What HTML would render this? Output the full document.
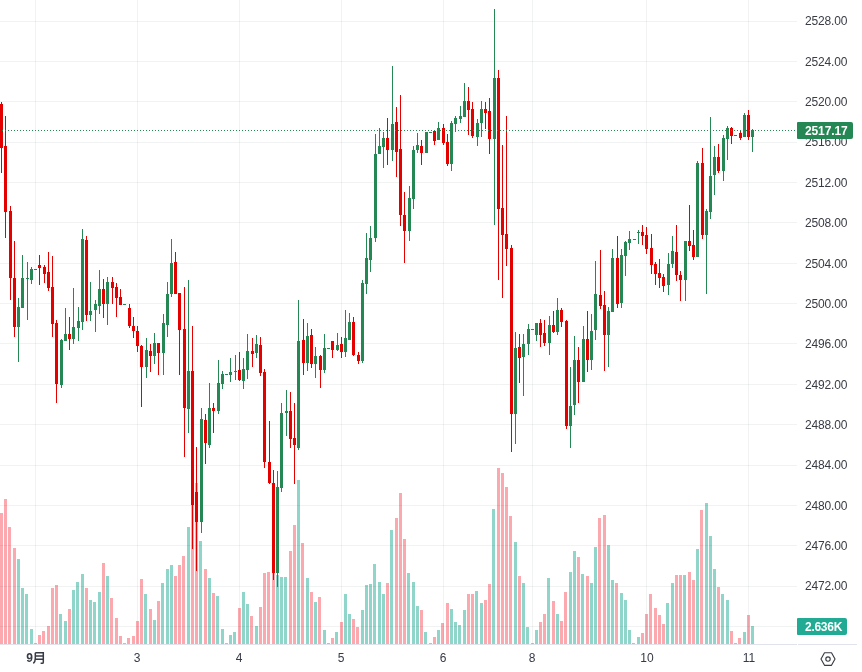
<!DOCTYPE html><html><head><meta charset="utf-8"><title>chart</title><style>
html,body{margin:0;padding:0;background:#fff}
body{width:862px;height:672px;overflow:hidden;position:relative;font-family:"Liberation Sans",sans-serif}
svg{position:absolute;left:0;top:0}
.pl{position:absolute;will-change:transform;left:805px;width:50px;height:14px;line-height:14px;font-size:12px;color:#3a3c45;letter-spacing:-0.15px;white-space:nowrap}
.tl{position:absolute;will-change:transform;top:651px;width:40px;height:14px;line-height:14px;font-size:12px;color:#363a45;text-align:center;white-space:nowrap}
.badge{position:absolute;will-change:transform;left:797px;color:#fff;font-weight:bold;font-size:12px;border-radius:1px 2px 2px 1px;box-sizing:border-box;padding-left:8px;white-space:nowrap;letter-spacing:-0.12px}

</style></head><body>
<svg width="862" height="672" viewBox="0 0 862 672" shape-rendering="crispEdges">
<rect x="0" y="513" width="3" height="131" fill="#fba8af"/>
<rect x="4" y="499" width="3" height="145" fill="#fba8af"/>
<rect x="8" y="527" width="3" height="117" fill="#fba8af"/>
<rect x="13" y="548" width="3" height="96" fill="#fba8af"/>
<rect x="17" y="559" width="3" height="85" fill="#90d5c9"/>
<rect x="21" y="588" width="3" height="56" fill="#90d5c9"/>
<rect x="25" y="594" width="3" height="50" fill="#90d5c9"/>
<rect x="30" y="629" width="3" height="15" fill="#90d5c9"/>
<rect x="34" y="643" width="3" height="1" fill="#90d5c9"/>
<rect x="38" y="635" width="3" height="9" fill="#fba8af"/>
<rect x="42" y="631" width="3" height="13" fill="#fba8af"/>
<rect x="47" y="626" width="3" height="18" fill="#fba8af"/>
<rect x="51" y="588" width="3" height="56" fill="#fba8af"/>
<rect x="55" y="585" width="3" height="59" fill="#fba8af"/>
<rect x="59" y="614" width="3" height="30" fill="#90d5c9"/>
<rect x="64" y="621" width="3" height="23" fill="#90d5c9"/>
<rect x="68" y="609" width="3" height="35" fill="#fba8af"/>
<rect x="72" y="590" width="3" height="54" fill="#90d5c9"/>
<rect x="76" y="582" width="3" height="62" fill="#90d5c9"/>
<rect x="81" y="574" width="3" height="70" fill="#90d5c9"/>
<rect x="85" y="588" width="3" height="56" fill="#fba8af"/>
<rect x="89" y="600" width="3" height="44" fill="#90d5c9"/>
<rect x="93" y="602" width="3" height="42" fill="#90d5c9"/>
<rect x="98" y="592" width="3" height="52" fill="#90d5c9"/>
<rect x="102" y="563" width="3" height="81" fill="#fba8af"/>
<rect x="106" y="576" width="3" height="68" fill="#90d5c9"/>
<rect x="110" y="598" width="3" height="46" fill="#fba8af"/>
<rect x="115" y="618" width="3" height="26" fill="#fba8af"/>
<rect x="119" y="636" width="3" height="8" fill="#fba8af"/>
<rect x="123" y="643" width="3" height="1" fill="#90d5c9"/>
<rect x="127" y="638" width="3" height="6" fill="#fba8af"/>
<rect x="132" y="636" width="3" height="8" fill="#fba8af"/>
<rect x="136" y="621" width="3" height="23" fill="#fba8af"/>
<rect x="140" y="579" width="3" height="65" fill="#fba8af"/>
<rect x="144" y="594" width="3" height="50" fill="#90d5c9"/>
<rect x="149" y="609" width="3" height="35" fill="#fba8af"/>
<rect x="153" y="620" width="3" height="24" fill="#90d5c9"/>
<rect x="157" y="601" width="3" height="43" fill="#fba8af"/>
<rect x="161" y="583" width="3" height="61" fill="#90d5c9"/>
<rect x="166" y="569" width="3" height="75" fill="#90d5c9"/>
<rect x="170" y="565" width="3" height="79" fill="#90d5c9"/>
<rect x="174" y="576" width="3" height="68" fill="#fba8af"/>
<rect x="178" y="565" width="3" height="79" fill="#fba8af"/>
<rect x="182" y="556" width="3" height="88" fill="#fba8af"/>
<rect x="187" y="527" width="3" height="117" fill="#90d5c9"/>
<rect x="191" y="500" width="3" height="144" fill="#fba8af"/>
<rect x="195" y="483" width="3" height="161" fill="#fba8af"/>
<rect x="199" y="541" width="3" height="103" fill="#90d5c9"/>
<rect x="204" y="569" width="3" height="75" fill="#fba8af"/>
<rect x="208" y="578" width="3" height="66" fill="#90d5c9"/>
<rect x="212" y="593" width="3" height="51" fill="#fba8af"/>
<rect x="216" y="596" width="3" height="48" fill="#90d5c9"/>
<rect x="221" y="629" width="3" height="15" fill="#90d5c9"/>
<rect x="225" y="643" width="3" height="1" fill="#90d5c9"/>
<rect x="229" y="635" width="3" height="9" fill="#90d5c9"/>
<rect x="233" y="632" width="3" height="12" fill="#90d5c9"/>
<rect x="238" y="608" width="3" height="36" fill="#fba8af"/>
<rect x="242" y="592" width="3" height="52" fill="#90d5c9"/>
<rect x="246" y="604" width="3" height="40" fill="#90d5c9"/>
<rect x="250" y="616" width="3" height="28" fill="#fba8af"/>
<rect x="255" y="626" width="3" height="18" fill="#90d5c9"/>
<rect x="259" y="607" width="3" height="37" fill="#fba8af"/>
<rect x="263" y="573" width="3" height="71" fill="#fba8af"/>
<rect x="267" y="572" width="3" height="72" fill="#fba8af"/>
<rect x="272" y="573" width="3" height="71" fill="#fba8af"/>
<rect x="276" y="575" width="3" height="69" fill="#90d5c9"/>
<rect x="280" y="577" width="3" height="67" fill="#90d5c9"/>
<rect x="284" y="577" width="3" height="67" fill="#90d5c9"/>
<rect x="289" y="551" width="3" height="93" fill="#fba8af"/>
<rect x="293" y="525" width="3" height="119" fill="#fba8af"/>
<rect x="297" y="480" width="3" height="164" fill="#90d5c9"/>
<rect x="301" y="543" width="3" height="101" fill="#fba8af"/>
<rect x="306" y="578" width="3" height="66" fill="#90d5c9"/>
<rect x="310" y="592" width="3" height="52" fill="#fba8af"/>
<rect x="314" y="602" width="3" height="42" fill="#90d5c9"/>
<rect x="318" y="597" width="3" height="47" fill="#fba8af"/>
<rect x="323" y="630" width="3" height="14" fill="#90d5c9"/>
<rect x="327" y="643" width="3" height="1" fill="#90d5c9"/>
<rect x="331" y="638" width="3" height="6" fill="#fba8af"/>
<rect x="335" y="632" width="3" height="12" fill="#90d5c9"/>
<rect x="340" y="622" width="3" height="22" fill="#fba8af"/>
<rect x="344" y="594" width="3" height="50" fill="#90d5c9"/>
<rect x="348" y="614" width="3" height="30" fill="#90d5c9"/>
<rect x="352" y="619" width="3" height="25" fill="#fba8af"/>
<rect x="356" y="627" width="3" height="17" fill="#fba8af"/>
<rect x="361" y="610" width="3" height="34" fill="#90d5c9"/>
<rect x="365" y="585" width="3" height="59" fill="#90d5c9"/>
<rect x="369" y="584" width="3" height="60" fill="#90d5c9"/>
<rect x="373" y="564" width="3" height="80" fill="#90d5c9"/>
<rect x="378" y="582" width="3" height="62" fill="#90d5c9"/>
<rect x="382" y="594" width="3" height="50" fill="#90d5c9"/>
<rect x="386" y="583" width="3" height="61" fill="#fba8af"/>
<rect x="390" y="530" width="3" height="114" fill="#90d5c9"/>
<rect x="395" y="518" width="3" height="126" fill="#fba8af"/>
<rect x="399" y="493" width="3" height="151" fill="#fba8af"/>
<rect x="403" y="539" width="3" height="105" fill="#fba8af"/>
<rect x="407" y="573" width="3" height="71" fill="#90d5c9"/>
<rect x="412" y="582" width="3" height="62" fill="#90d5c9"/>
<rect x="416" y="606" width="3" height="38" fill="#90d5c9"/>
<rect x="420" y="610" width="3" height="34" fill="#fba8af"/>
<rect x="424" y="632" width="3" height="12" fill="#90d5c9"/>
<rect x="429" y="643" width="3" height="1" fill="#90d5c9"/>
<rect x="433" y="637" width="3" height="7" fill="#fba8af"/>
<rect x="437" y="630" width="3" height="14" fill="#90d5c9"/>
<rect x="441" y="623" width="3" height="21" fill="#fba8af"/>
<rect x="446" y="603" width="3" height="41" fill="#fba8af"/>
<rect x="450" y="609" width="3" height="35" fill="#90d5c9"/>
<rect x="454" y="622" width="3" height="22" fill="#90d5c9"/>
<rect x="458" y="625" width="3" height="19" fill="#90d5c9"/>
<rect x="463" y="610" width="3" height="34" fill="#90d5c9"/>
<rect x="467" y="594" width="3" height="50" fill="#fba8af"/>
<rect x="471" y="594" width="3" height="50" fill="#fba8af"/>
<rect x="475" y="591" width="3" height="53" fill="#90d5c9"/>
<rect x="480" y="603" width="3" height="41" fill="#90d5c9"/>
<rect x="484" y="600" width="3" height="44" fill="#fba8af"/>
<rect x="488" y="584" width="3" height="60" fill="#fba8af"/>
<rect x="492" y="509" width="3" height="135" fill="#90d5c9"/>
<rect x="497" y="468" width="3" height="176" fill="#fba8af"/>
<rect x="501" y="473" width="3" height="171" fill="#fba8af"/>
<rect x="505" y="487" width="3" height="157" fill="#fba8af"/>
<rect x="509" y="516" width="3" height="128" fill="#fba8af"/>
<rect x="514" y="542" width="3" height="102" fill="#90d5c9"/>
<rect x="518" y="576" width="3" height="68" fill="#fba8af"/>
<rect x="522" y="583" width="3" height="61" fill="#90d5c9"/>
<rect x="526" y="627" width="3" height="17" fill="#90d5c9"/>
<rect x="531" y="643" width="3" height="1" fill="#90d5c9"/>
<rect x="535" y="630" width="3" height="14" fill="#90d5c9"/>
<rect x="539" y="622" width="3" height="22" fill="#fba8af"/>
<rect x="543" y="614" width="3" height="30" fill="#fba8af"/>
<rect x="547" y="578" width="3" height="66" fill="#90d5c9"/>
<rect x="552" y="601" width="3" height="43" fill="#fba8af"/>
<rect x="556" y="614" width="3" height="30" fill="#90d5c9"/>
<rect x="560" y="621" width="3" height="23" fill="#fba8af"/>
<rect x="564" y="592" width="3" height="52" fill="#fba8af"/>
<rect x="569" y="572" width="3" height="72" fill="#90d5c9"/>
<rect x="573" y="551" width="3" height="93" fill="#90d5c9"/>
<rect x="577" y="557" width="3" height="87" fill="#fba8af"/>
<rect x="581" y="574" width="3" height="70" fill="#90d5c9"/>
<rect x="586" y="576" width="3" height="68" fill="#fba8af"/>
<rect x="590" y="583" width="3" height="61" fill="#90d5c9"/>
<rect x="594" y="547" width="3" height="97" fill="#90d5c9"/>
<rect x="598" y="518" width="3" height="126" fill="#fba8af"/>
<rect x="603" y="515" width="3" height="129" fill="#fba8af"/>
<rect x="607" y="545" width="3" height="99" fill="#90d5c9"/>
<rect x="611" y="580" width="3" height="64" fill="#90d5c9"/>
<rect x="615" y="583" width="3" height="61" fill="#fba8af"/>
<rect x="620" y="593" width="3" height="51" fill="#90d5c9"/>
<rect x="624" y="600" width="3" height="44" fill="#90d5c9"/>
<rect x="628" y="630" width="3" height="14" fill="#90d5c9"/>
<rect x="632" y="643" width="3" height="1" fill="#90d5c9"/>
<rect x="637" y="637" width="3" height="7" fill="#90d5c9"/>
<rect x="641" y="633" width="3" height="11" fill="#fba8af"/>
<rect x="645" y="614" width="3" height="30" fill="#fba8af"/>
<rect x="649" y="594" width="3" height="50" fill="#fba8af"/>
<rect x="654" y="608" width="3" height="36" fill="#fba8af"/>
<rect x="658" y="615" width="3" height="29" fill="#fba8af"/>
<rect x="662" y="624" width="3" height="20" fill="#fba8af"/>
<rect x="666" y="603" width="3" height="41" fill="#90d5c9"/>
<rect x="671" y="583" width="3" height="61" fill="#90d5c9"/>
<rect x="675" y="575" width="3" height="69" fill="#fba8af"/>
<rect x="679" y="575" width="3" height="69" fill="#fba8af"/>
<rect x="683" y="575" width="3" height="69" fill="#90d5c9"/>
<rect x="688" y="572" width="3" height="72" fill="#fba8af"/>
<rect x="692" y="580" width="3" height="64" fill="#fba8af"/>
<rect x="696" y="549" width="3" height="95" fill="#90d5c9"/>
<rect x="700" y="510" width="3" height="134" fill="#fba8af"/>
<rect x="705" y="503" width="3" height="141" fill="#90d5c9"/>
<rect x="709" y="536" width="3" height="108" fill="#90d5c9"/>
<rect x="713" y="569" width="3" height="75" fill="#90d5c9"/>
<rect x="717" y="587" width="3" height="57" fill="#fba8af"/>
<rect x="721" y="594" width="3" height="50" fill="#90d5c9"/>
<rect x="726" y="600" width="3" height="44" fill="#90d5c9"/>
<rect x="730" y="631" width="3" height="13" fill="#fba8af"/>
<rect x="734" y="643" width="3" height="1" fill="#90d5c9"/>
<rect x="738" y="638" width="3" height="6" fill="#fba8af"/>
<rect x="743" y="632" width="3" height="12" fill="#90d5c9"/>
<rect x="747" y="615" width="3" height="29" fill="#fba8af"/>
<rect x="751" y="626" width="3" height="18" fill="#90d5c9"/>
<rect x="0" y="21" width="797" height="1" fill="rgba(42,60,57,0.065)"/>
<rect x="0" y="61" width="797" height="1" fill="rgba(42,60,57,0.065)"/>
<rect x="0" y="101" width="797" height="1" fill="rgba(42,60,57,0.065)"/>
<rect x="0" y="142" width="797" height="1" fill="rgba(42,60,57,0.065)"/>
<rect x="0" y="182" width="797" height="1" fill="rgba(42,60,57,0.065)"/>
<rect x="0" y="222" width="797" height="1" fill="rgba(42,60,57,0.065)"/>
<rect x="0" y="263" width="797" height="1" fill="rgba(42,60,57,0.065)"/>
<rect x="0" y="303" width="797" height="1" fill="rgba(42,60,57,0.065)"/>
<rect x="0" y="343" width="797" height="1" fill="rgba(42,60,57,0.065)"/>
<rect x="0" y="384" width="797" height="1" fill="rgba(42,60,57,0.065)"/>
<rect x="0" y="424" width="797" height="1" fill="rgba(42,60,57,0.065)"/>
<rect x="0" y="465" width="797" height="1" fill="rgba(42,60,57,0.065)"/>
<rect x="0" y="505" width="797" height="1" fill="rgba(42,60,57,0.065)"/>
<rect x="0" y="545" width="797" height="1" fill="rgba(42,60,57,0.065)"/>
<rect x="0" y="586" width="797" height="1" fill="rgba(42,60,57,0.065)"/>
<rect x="0" y="626" width="797" height="1" fill="rgba(42,60,57,0.065)"/>
<rect x="35" y="0" width="1" height="644" fill="rgba(42,60,57,0.065)"/>
<rect x="137" y="0" width="1" height="644" fill="rgba(42,60,57,0.065)"/>
<rect x="239" y="0" width="1" height="644" fill="rgba(42,60,57,0.065)"/>
<rect x="341" y="0" width="1" height="644" fill="rgba(42,60,57,0.065)"/>
<rect x="443" y="0" width="1" height="644" fill="rgba(42,60,57,0.065)"/>
<rect x="532" y="0" width="1" height="644" fill="rgba(42,60,57,0.065)"/>
<rect x="646" y="0" width="1" height="644" fill="rgba(42,60,57,0.065)"/>
<rect x="748" y="0" width="1" height="644" fill="rgba(42,60,57,0.065)"/>
<rect x="1" y="102" width="1" height="71" fill="#e50000"/>
<rect x="0" y="104" width="3" height="44" fill="#e50000"/>
<rect x="5" y="116" width="1" height="122" fill="#e50000"/>
<rect x="4" y="146" width="3" height="66" fill="#e50000"/>
<rect x="10" y="206" width="1" height="94" fill="#e50000"/>
<rect x="9" y="211" width="3" height="67" fill="#e50000"/>
<rect x="14" y="241" width="1" height="96" fill="#e50000"/>
<rect x="13" y="278" width="3" height="49" fill="#e50000"/>
<rect x="18" y="298" width="1" height="64" fill="#258753"/>
<rect x="17" y="307" width="3" height="20" fill="#258753"/>
<rect x="22" y="255" width="1" height="53" fill="#258753"/>
<rect x="21" y="278" width="3" height="30" fill="#258753"/>
<rect x="27" y="262" width="1" height="58" fill="#258753"/>
<rect x="26" y="278" width="3" height="1" fill="#258753"/>
<rect x="31" y="267" width="1" height="17" fill="#258753"/>
<rect x="30" y="269" width="3" height="11" fill="#258753"/>
<rect x="35" y="269" width="1" height="1" fill="#258753"/>
<rect x="34" y="269" width="3" height="1" fill="#258753"/>
<rect x="39" y="255" width="1" height="30" fill="#e50000"/>
<rect x="38" y="265" width="3" height="3" fill="#e50000"/>
<rect x="44" y="265" width="1" height="18" fill="#e50000"/>
<rect x="43" y="267" width="3" height="7" fill="#e50000"/>
<rect x="48" y="252" width="1" height="39" fill="#e50000"/>
<rect x="47" y="272" width="3" height="16" fill="#e50000"/>
<rect x="52" y="256" width="1" height="81" fill="#e50000"/>
<rect x="51" y="287" width="3" height="37" fill="#e50000"/>
<rect x="56" y="320" width="1" height="83" fill="#e50000"/>
<rect x="55" y="323" width="3" height="61" fill="#e50000"/>
<rect x="61" y="339" width="1" height="49" fill="#258753"/>
<rect x="60" y="340" width="3" height="45" fill="#258753"/>
<rect x="65" y="308" width="1" height="33" fill="#258753"/>
<rect x="64" y="334" width="3" height="7" fill="#258753"/>
<rect x="69" y="317" width="1" height="33" fill="#e50000"/>
<rect x="68" y="334" width="3" height="5" fill="#e50000"/>
<rect x="73" y="288" width="1" height="56" fill="#258753"/>
<rect x="72" y="327" width="3" height="12" fill="#258753"/>
<rect x="78" y="307" width="1" height="34" fill="#258753"/>
<rect x="77" y="321" width="3" height="7" fill="#258753"/>
<rect x="82" y="229" width="1" height="101" fill="#258753"/>
<rect x="81" y="239" width="3" height="83" fill="#258753"/>
<rect x="86" y="236" width="1" height="85" fill="#e50000"/>
<rect x="85" y="240" width="3" height="75" fill="#e50000"/>
<rect x="90" y="282" width="1" height="39" fill="#258753"/>
<rect x="89" y="311" width="3" height="4" fill="#258753"/>
<rect x="95" y="300" width="1" height="32" fill="#258753"/>
<rect x="94" y="304" width="3" height="6" fill="#258753"/>
<rect x="99" y="270" width="1" height="44" fill="#258753"/>
<rect x="98" y="289" width="3" height="17" fill="#258753"/>
<rect x="103" y="279" width="1" height="39" fill="#e50000"/>
<rect x="102" y="289" width="3" height="15" fill="#e50000"/>
<rect x="107" y="277" width="1" height="48" fill="#258753"/>
<rect x="106" y="282" width="3" height="22" fill="#258753"/>
<rect x="112" y="277" width="1" height="27" fill="#e50000"/>
<rect x="111" y="282" width="3" height="6" fill="#e50000"/>
<rect x="116" y="283" width="1" height="34" fill="#e50000"/>
<rect x="115" y="287" width="3" height="11" fill="#e50000"/>
<rect x="120" y="289" width="1" height="16" fill="#e50000"/>
<rect x="119" y="297" width="3" height="8" fill="#e50000"/>
<rect x="124" y="304" width="1" height="1" fill="#258753"/>
<rect x="123" y="304" width="3" height="1" fill="#258753"/>
<rect x="129" y="304" width="1" height="24" fill="#e50000"/>
<rect x="128" y="308" width="3" height="18" fill="#e50000"/>
<rect x="133" y="317" width="1" height="21" fill="#e50000"/>
<rect x="132" y="326" width="3" height="5" fill="#e50000"/>
<rect x="137" y="326" width="1" height="26" fill="#e50000"/>
<rect x="136" y="331" width="3" height="15" fill="#e50000"/>
<rect x="141" y="345" width="1" height="62" fill="#e50000"/>
<rect x="140" y="346" width="3" height="21" fill="#e50000"/>
<rect x="146" y="338" width="1" height="40" fill="#258753"/>
<rect x="145" y="350" width="3" height="17" fill="#258753"/>
<rect x="150" y="344" width="1" height="28" fill="#e50000"/>
<rect x="149" y="351" width="3" height="5" fill="#e50000"/>
<rect x="154" y="333" width="1" height="31" fill="#258753"/>
<rect x="153" y="343" width="3" height="13" fill="#258753"/>
<rect x="158" y="343" width="1" height="32" fill="#e50000"/>
<rect x="157" y="343" width="3" height="10" fill="#e50000"/>
<rect x="163" y="314" width="1" height="61" fill="#258753"/>
<rect x="162" y="323" width="3" height="30" fill="#258753"/>
<rect x="167" y="282" width="1" height="55" fill="#258753"/>
<rect x="166" y="294" width="3" height="31" fill="#258753"/>
<rect x="171" y="239" width="1" height="58" fill="#258753"/>
<rect x="170" y="263" width="3" height="31" fill="#258753"/>
<rect x="175" y="252" width="1" height="42" fill="#e50000"/>
<rect x="174" y="262" width="3" height="32" fill="#e50000"/>
<rect x="179" y="293" width="1" height="82" fill="#e50000"/>
<rect x="178" y="293" width="3" height="37" fill="#e50000"/>
<rect x="184" y="287" width="1" height="170" fill="#e50000"/>
<rect x="183" y="329" width="3" height="79" fill="#e50000"/>
<rect x="188" y="280" width="1" height="153" fill="#258753"/>
<rect x="187" y="371" width="3" height="38" fill="#258753"/>
<rect x="192" y="326" width="1" height="223" fill="#e50000"/>
<rect x="191" y="371" width="3" height="134" fill="#e50000"/>
<rect x="196" y="447" width="1" height="124" fill="#e50000"/>
<rect x="195" y="492" width="3" height="30" fill="#e50000"/>
<rect x="201" y="408" width="1" height="125" fill="#258753"/>
<rect x="200" y="419" width="3" height="103" fill="#258753"/>
<rect x="205" y="414" width="1" height="50" fill="#e50000"/>
<rect x="204" y="420" width="3" height="23" fill="#e50000"/>
<rect x="209" y="383" width="1" height="65" fill="#258753"/>
<rect x="208" y="408" width="3" height="37" fill="#258753"/>
<rect x="213" y="403" width="1" height="30" fill="#e50000"/>
<rect x="212" y="408" width="3" height="3" fill="#e50000"/>
<rect x="218" y="360" width="1" height="54" fill="#258753"/>
<rect x="217" y="383" width="3" height="28" fill="#258753"/>
<rect x="222" y="371" width="1" height="18" fill="#258753"/>
<rect x="221" y="374" width="3" height="10" fill="#258753"/>
<rect x="226" y="374" width="1" height="1" fill="#258753"/>
<rect x="225" y="374" width="3" height="1" fill="#258753"/>
<rect x="230" y="358" width="1" height="24" fill="#258753"/>
<rect x="229" y="372" width="3" height="3" fill="#258753"/>
<rect x="235" y="355" width="1" height="25" fill="#258753"/>
<rect x="234" y="371" width="3" height="1" fill="#258753"/>
<rect x="239" y="352" width="1" height="29" fill="#e50000"/>
<rect x="238" y="370" width="3" height="10" fill="#e50000"/>
<rect x="243" y="358" width="1" height="31" fill="#258753"/>
<rect x="242" y="369" width="3" height="12" fill="#258753"/>
<rect x="247" y="334" width="1" height="45" fill="#258753"/>
<rect x="246" y="351" width="3" height="19" fill="#258753"/>
<rect x="252" y="338" width="1" height="29" fill="#e50000"/>
<rect x="251" y="351" width="3" height="3" fill="#e50000"/>
<rect x="256" y="335" width="1" height="23" fill="#258753"/>
<rect x="255" y="344" width="3" height="9" fill="#258753"/>
<rect x="260" y="337" width="1" height="39" fill="#e50000"/>
<rect x="259" y="345" width="3" height="28" fill="#e50000"/>
<rect x="264" y="369" width="1" height="99" fill="#e50000"/>
<rect x="263" y="372" width="3" height="90" fill="#e50000"/>
<rect x="269" y="421" width="1" height="63" fill="#e50000"/>
<rect x="268" y="462" width="3" height="21" fill="#e50000"/>
<rect x="273" y="470" width="1" height="110" fill="#e50000"/>
<rect x="272" y="483" width="3" height="90" fill="#e50000"/>
<rect x="277" y="471" width="1" height="116" fill="#258753"/>
<rect x="276" y="487" width="3" height="86" fill="#258753"/>
<rect x="281" y="403" width="1" height="89" fill="#258753"/>
<rect x="280" y="413" width="3" height="75" fill="#258753"/>
<rect x="286" y="390" width="1" height="46" fill="#258753"/>
<rect x="285" y="411" width="3" height="2" fill="#258753"/>
<rect x="290" y="392" width="1" height="56" fill="#e50000"/>
<rect x="289" y="411" width="3" height="28" fill="#e50000"/>
<rect x="294" y="403" width="1" height="81" fill="#e50000"/>
<rect x="293" y="438" width="3" height="7" fill="#e50000"/>
<rect x="298" y="300" width="1" height="150" fill="#258753"/>
<rect x="297" y="341" width="3" height="107" fill="#258753"/>
<rect x="303" y="319" width="1" height="56" fill="#e50000"/>
<rect x="302" y="340" width="3" height="23" fill="#e50000"/>
<rect x="307" y="323" width="1" height="48" fill="#258753"/>
<rect x="306" y="336" width="3" height="27" fill="#258753"/>
<rect x="311" y="329" width="1" height="39" fill="#e50000"/>
<rect x="310" y="335" width="3" height="29" fill="#e50000"/>
<rect x="315" y="347" width="1" height="31" fill="#258753"/>
<rect x="314" y="356" width="3" height="8" fill="#258753"/>
<rect x="320" y="355" width="1" height="33" fill="#e50000"/>
<rect x="319" y="356" width="3" height="14" fill="#e50000"/>
<rect x="324" y="334" width="1" height="39" fill="#258753"/>
<rect x="323" y="348" width="3" height="22" fill="#258753"/>
<rect x="328" y="348" width="1" height="1" fill="#258753"/>
<rect x="327" y="348" width="3" height="1" fill="#258753"/>
<rect x="332" y="341" width="1" height="17" fill="#e50000"/>
<rect x="331" y="341" width="3" height="9" fill="#e50000"/>
<rect x="337" y="333" width="1" height="18" fill="#258753"/>
<rect x="336" y="345" width="3" height="5" fill="#258753"/>
<rect x="341" y="337" width="1" height="21" fill="#e50000"/>
<rect x="340" y="344" width="3" height="8" fill="#e50000"/>
<rect x="345" y="310" width="1" height="47" fill="#258753"/>
<rect x="344" y="338" width="3" height="14" fill="#258753"/>
<rect x="349" y="313" width="1" height="27" fill="#258753"/>
<rect x="348" y="322" width="3" height="18" fill="#258753"/>
<rect x="353" y="317" width="1" height="39" fill="#e50000"/>
<rect x="352" y="322" width="3" height="33" fill="#e50000"/>
<rect x="358" y="352" width="1" height="12" fill="#e50000"/>
<rect x="357" y="355" width="3" height="6" fill="#e50000"/>
<rect x="362" y="280" width="1" height="83" fill="#258753"/>
<rect x="361" y="283" width="3" height="78" fill="#258753"/>
<rect x="366" y="233" width="1" height="61" fill="#258753"/>
<rect x="365" y="258" width="3" height="26" fill="#258753"/>
<rect x="370" y="226" width="1" height="46" fill="#258753"/>
<rect x="369" y="238" width="3" height="22" fill="#258753"/>
<rect x="375" y="134" width="1" height="108" fill="#258753"/>
<rect x="374" y="154" width="3" height="84" fill="#258753"/>
<rect x="379" y="128" width="1" height="26" fill="#258753"/>
<rect x="378" y="146" width="3" height="8" fill="#258753"/>
<rect x="383" y="132" width="1" height="36" fill="#258753"/>
<rect x="382" y="138" width="3" height="9" fill="#258753"/>
<rect x="387" y="118" width="1" height="47" fill="#e50000"/>
<rect x="386" y="138" width="3" height="12" fill="#e50000"/>
<rect x="392" y="66" width="1" height="95" fill="#258753"/>
<rect x="391" y="124" width="3" height="26" fill="#258753"/>
<rect x="396" y="107" width="1" height="70" fill="#e50000"/>
<rect x="395" y="122" width="3" height="30" fill="#e50000"/>
<rect x="400" y="95" width="1" height="131" fill="#e50000"/>
<rect x="399" y="149" width="3" height="66" fill="#e50000"/>
<rect x="404" y="192" width="1" height="71" fill="#e50000"/>
<rect x="403" y="215" width="3" height="16" fill="#e50000"/>
<rect x="409" y="186" width="1" height="55" fill="#258753"/>
<rect x="408" y="198" width="3" height="33" fill="#258753"/>
<rect x="413" y="146" width="1" height="63" fill="#258753"/>
<rect x="412" y="150" width="3" height="49" fill="#258753"/>
<rect x="417" y="133" width="1" height="20" fill="#258753"/>
<rect x="416" y="145" width="3" height="5" fill="#258753"/>
<rect x="421" y="140" width="1" height="25" fill="#e50000"/>
<rect x="420" y="146" width="3" height="7" fill="#e50000"/>
<rect x="426" y="132" width="1" height="21" fill="#258753"/>
<rect x="425" y="132" width="3" height="21" fill="#258753"/>
<rect x="430" y="132" width="1" height="1" fill="#258753"/>
<rect x="429" y="132" width="3" height="1" fill="#258753"/>
<rect x="434" y="130" width="1" height="15" fill="#e50000"/>
<rect x="433" y="131" width="3" height="10" fill="#e50000"/>
<rect x="438" y="122" width="1" height="18" fill="#258753"/>
<rect x="437" y="128" width="3" height="12" fill="#258753"/>
<rect x="443" y="124" width="1" height="21" fill="#e50000"/>
<rect x="442" y="128" width="3" height="15" fill="#e50000"/>
<rect x="447" y="134" width="1" height="32" fill="#e50000"/>
<rect x="446" y="142" width="3" height="22" fill="#e50000"/>
<rect x="451" y="121" width="1" height="50" fill="#258753"/>
<rect x="450" y="123" width="3" height="41" fill="#258753"/>
<rect x="455" y="116" width="1" height="16" fill="#258753"/>
<rect x="454" y="118" width="3" height="6" fill="#258753"/>
<rect x="460" y="106" width="1" height="17" fill="#258753"/>
<rect x="459" y="116" width="3" height="3" fill="#258753"/>
<rect x="464" y="83" width="1" height="34" fill="#258753"/>
<rect x="463" y="101" width="3" height="16" fill="#258753"/>
<rect x="468" y="87" width="1" height="48" fill="#e50000"/>
<rect x="467" y="101" width="3" height="9" fill="#e50000"/>
<rect x="472" y="102" width="1" height="36" fill="#e50000"/>
<rect x="471" y="109" width="3" height="27" fill="#e50000"/>
<rect x="477" y="119" width="1" height="27" fill="#258753"/>
<rect x="476" y="123" width="3" height="14" fill="#258753"/>
<rect x="481" y="101" width="1" height="36" fill="#258753"/>
<rect x="480" y="109" width="3" height="14" fill="#258753"/>
<rect x="485" y="102" width="1" height="27" fill="#e50000"/>
<rect x="484" y="109" width="3" height="4" fill="#e50000"/>
<rect x="489" y="98" width="1" height="56" fill="#e50000"/>
<rect x="488" y="111" width="3" height="28" fill="#e50000"/>
<rect x="494" y="9" width="1" height="216" fill="#258753"/>
<rect x="493" y="78" width="3" height="61" fill="#258753"/>
<rect x="498" y="70" width="1" height="210" fill="#e50000"/>
<rect x="497" y="78" width="3" height="131" fill="#e50000"/>
<rect x="502" y="145" width="1" height="153" fill="#e50000"/>
<rect x="501" y="208" width="3" height="27" fill="#e50000"/>
<rect x="506" y="116" width="1" height="150" fill="#e50000"/>
<rect x="505" y="234" width="3" height="15" fill="#e50000"/>
<rect x="511" y="245" width="1" height="207" fill="#e50000"/>
<rect x="510" y="248" width="3" height="166" fill="#e50000"/>
<rect x="515" y="332" width="1" height="112" fill="#258753"/>
<rect x="514" y="348" width="3" height="66" fill="#258753"/>
<rect x="519" y="334" width="1" height="49" fill="#e50000"/>
<rect x="518" y="347" width="3" height="11" fill="#e50000"/>
<rect x="523" y="334" width="1" height="62" fill="#258753"/>
<rect x="522" y="344" width="3" height="13" fill="#258753"/>
<rect x="528" y="324" width="1" height="31" fill="#258753"/>
<rect x="527" y="329" width="3" height="15" fill="#258753"/>
<rect x="532" y="329" width="1" height="1" fill="#258753"/>
<rect x="531" y="329" width="3" height="1" fill="#258753"/>
<rect x="536" y="323" width="1" height="18" fill="#258753"/>
<rect x="535" y="323" width="3" height="12" fill="#258753"/>
<rect x="540" y="319" width="1" height="28" fill="#e50000"/>
<rect x="539" y="323" width="3" height="12" fill="#e50000"/>
<rect x="544" y="320" width="1" height="26" fill="#e50000"/>
<rect x="543" y="333" width="3" height="10" fill="#e50000"/>
<rect x="549" y="316" width="1" height="39" fill="#258753"/>
<rect x="548" y="325" width="3" height="18" fill="#258753"/>
<rect x="553" y="311" width="1" height="22" fill="#e50000"/>
<rect x="552" y="325" width="3" height="7" fill="#e50000"/>
<rect x="557" y="298" width="1" height="37" fill="#258753"/>
<rect x="556" y="310" width="3" height="22" fill="#258753"/>
<rect x="561" y="308" width="1" height="19" fill="#e50000"/>
<rect x="560" y="310" width="3" height="12" fill="#e50000"/>
<rect x="566" y="320" width="1" height="109" fill="#e50000"/>
<rect x="565" y="321" width="3" height="105" fill="#e50000"/>
<rect x="570" y="367" width="1" height="81" fill="#258753"/>
<rect x="569" y="406" width="3" height="20" fill="#258753"/>
<rect x="574" y="336" width="1" height="79" fill="#258753"/>
<rect x="573" y="360" width="3" height="45" fill="#258753"/>
<rect x="578" y="347" width="1" height="56" fill="#e50000"/>
<rect x="577" y="360" width="3" height="22" fill="#e50000"/>
<rect x="583" y="326" width="1" height="56" fill="#258753"/>
<rect x="582" y="339" width="3" height="43" fill="#258753"/>
<rect x="587" y="311" width="1" height="61" fill="#e50000"/>
<rect x="586" y="339" width="3" height="21" fill="#e50000"/>
<rect x="591" y="314" width="1" height="56" fill="#258753"/>
<rect x="590" y="331" width="3" height="29" fill="#258753"/>
<rect x="595" y="261" width="1" height="79" fill="#258753"/>
<rect x="594" y="294" width="3" height="36" fill="#258753"/>
<rect x="600" y="250" width="1" height="59" fill="#e50000"/>
<rect x="599" y="295" width="3" height="11" fill="#e50000"/>
<rect x="604" y="291" width="1" height="80" fill="#e50000"/>
<rect x="603" y="305" width="3" height="30" fill="#e50000"/>
<rect x="608" y="307" width="1" height="60" fill="#258753"/>
<rect x="607" y="311" width="3" height="24" fill="#258753"/>
<rect x="612" y="249" width="1" height="63" fill="#258753"/>
<rect x="611" y="258" width="3" height="54" fill="#258753"/>
<rect x="617" y="236" width="1" height="72" fill="#e50000"/>
<rect x="616" y="258" width="3" height="46" fill="#e50000"/>
<rect x="621" y="249" width="1" height="59" fill="#258753"/>
<rect x="620" y="255" width="3" height="48" fill="#258753"/>
<rect x="625" y="241" width="1" height="35" fill="#258753"/>
<rect x="624" y="242" width="3" height="14" fill="#258753"/>
<rect x="629" y="231" width="1" height="19" fill="#258753"/>
<rect x="628" y="239" width="3" height="4" fill="#258753"/>
<rect x="634" y="239" width="1" height="1" fill="#258753"/>
<rect x="633" y="239" width="3" height="1" fill="#258753"/>
<rect x="638" y="230" width="1" height="14" fill="#258753"/>
<rect x="637" y="232" width="3" height="1" fill="#258753"/>
<rect x="642" y="225" width="1" height="20" fill="#e50000"/>
<rect x="641" y="232" width="3" height="4" fill="#e50000"/>
<rect x="646" y="227" width="1" height="27" fill="#e50000"/>
<rect x="645" y="235" width="3" height="14" fill="#e50000"/>
<rect x="651" y="234" width="1" height="40" fill="#e50000"/>
<rect x="650" y="248" width="3" height="17" fill="#e50000"/>
<rect x="655" y="262" width="1" height="23" fill="#e50000"/>
<rect x="654" y="264" width="3" height="10" fill="#e50000"/>
<rect x="659" y="259" width="1" height="29" fill="#e50000"/>
<rect x="658" y="273" width="3" height="5" fill="#e50000"/>
<rect x="663" y="274" width="1" height="18" fill="#e50000"/>
<rect x="662" y="277" width="3" height="9" fill="#e50000"/>
<rect x="668" y="253" width="1" height="42" fill="#258753"/>
<rect x="667" y="264" width="3" height="21" fill="#258753"/>
<rect x="672" y="236" width="1" height="32" fill="#258753"/>
<rect x="671" y="251" width="3" height="13" fill="#258753"/>
<rect x="676" y="225" width="1" height="56" fill="#e50000"/>
<rect x="675" y="252" width="3" height="23" fill="#e50000"/>
<rect x="680" y="271" width="1" height="30" fill="#e50000"/>
<rect x="679" y="275" width="3" height="5" fill="#e50000"/>
<rect x="685" y="241" width="1" height="60" fill="#258753"/>
<rect x="684" y="241" width="3" height="39" fill="#258753"/>
<rect x="689" y="205" width="1" height="46" fill="#e50000"/>
<rect x="688" y="241" width="3" height="5" fill="#e50000"/>
<rect x="693" y="230" width="1" height="30" fill="#e50000"/>
<rect x="692" y="245" width="3" height="12" fill="#e50000"/>
<rect x="697" y="161" width="1" height="96" fill="#258753"/>
<rect x="696" y="163" width="3" height="94" fill="#258753"/>
<rect x="702" y="148" width="1" height="91" fill="#e50000"/>
<rect x="701" y="163" width="3" height="72" fill="#e50000"/>
<rect x="706" y="209" width="1" height="85" fill="#258753"/>
<rect x="705" y="211" width="3" height="24" fill="#258753"/>
<rect x="710" y="117" width="1" height="102" fill="#258753"/>
<rect x="709" y="176" width="3" height="36" fill="#258753"/>
<rect x="714" y="146" width="1" height="49" fill="#258753"/>
<rect x="713" y="157" width="3" height="18" fill="#258753"/>
<rect x="718" y="144" width="1" height="29" fill="#e50000"/>
<rect x="717" y="157" width="3" height="14" fill="#e50000"/>
<rect x="723" y="135" width="1" height="46" fill="#258753"/>
<rect x="722" y="138" width="3" height="33" fill="#258753"/>
<rect x="727" y="126" width="1" height="34" fill="#258753"/>
<rect x="726" y="128" width="3" height="11" fill="#258753"/>
<rect x="731" y="127" width="1" height="17" fill="#e50000"/>
<rect x="730" y="128" width="3" height="8" fill="#e50000"/>
<rect x="735" y="135" width="1" height="1" fill="#258753"/>
<rect x="734" y="135" width="3" height="1" fill="#258753"/>
<rect x="740" y="130" width="1" height="10" fill="#e50000"/>
<rect x="739" y="133" width="3" height="5" fill="#e50000"/>
<rect x="744" y="113" width="1" height="24" fill="#258753"/>
<rect x="743" y="115" width="3" height="22" fill="#258753"/>
<rect x="748" y="110" width="1" height="30" fill="#e50000"/>
<rect x="747" y="115" width="3" height="22" fill="#e50000"/>
<rect x="752" y="129" width="1" height="23" fill="#258753"/>
<rect x="751" y="130" width="3" height="7" fill="#258753"/>
<rect x="2" y="130" width="1" height="1" fill="#258753"/>
<rect x="5" y="130" width="1" height="1" fill="#258753"/>
<rect x="8" y="130" width="1" height="1" fill="#258753"/>
<rect x="11" y="130" width="1" height="1" fill="#258753"/>
<rect x="14" y="130" width="1" height="1" fill="#258753"/>
<rect x="17" y="130" width="1" height="1" fill="#258753"/>
<rect x="20" y="130" width="1" height="1" fill="#258753"/>
<rect x="23" y="130" width="1" height="1" fill="#258753"/>
<rect x="26" y="130" width="1" height="1" fill="#258753"/>
<rect x="29" y="130" width="1" height="1" fill="#258753"/>
<rect x="32" y="130" width="1" height="1" fill="#258753"/>
<rect x="35" y="130" width="1" height="1" fill="#258753"/>
<rect x="38" y="130" width="1" height="1" fill="#258753"/>
<rect x="41" y="130" width="1" height="1" fill="#258753"/>
<rect x="44" y="130" width="1" height="1" fill="#258753"/>
<rect x="47" y="130" width="1" height="1" fill="#258753"/>
<rect x="50" y="130" width="1" height="1" fill="#258753"/>
<rect x="53" y="130" width="1" height="1" fill="#258753"/>
<rect x="56" y="130" width="1" height="1" fill="#258753"/>
<rect x="59" y="130" width="1" height="1" fill="#258753"/>
<rect x="62" y="130" width="1" height="1" fill="#258753"/>
<rect x="65" y="130" width="1" height="1" fill="#258753"/>
<rect x="68" y="130" width="1" height="1" fill="#258753"/>
<rect x="71" y="130" width="1" height="1" fill="#258753"/>
<rect x="74" y="130" width="1" height="1" fill="#258753"/>
<rect x="77" y="130" width="1" height="1" fill="#258753"/>
<rect x="80" y="130" width="1" height="1" fill="#258753"/>
<rect x="83" y="130" width="1" height="1" fill="#258753"/>
<rect x="86" y="130" width="1" height="1" fill="#258753"/>
<rect x="89" y="130" width="1" height="1" fill="#258753"/>
<rect x="92" y="130" width="1" height="1" fill="#258753"/>
<rect x="95" y="130" width="1" height="1" fill="#258753"/>
<rect x="98" y="130" width="1" height="1" fill="#258753"/>
<rect x="101" y="130" width="1" height="1" fill="#258753"/>
<rect x="104" y="130" width="1" height="1" fill="#258753"/>
<rect x="107" y="130" width="1" height="1" fill="#258753"/>
<rect x="110" y="130" width="1" height="1" fill="#258753"/>
<rect x="113" y="130" width="1" height="1" fill="#258753"/>
<rect x="116" y="130" width="1" height="1" fill="#258753"/>
<rect x="119" y="130" width="1" height="1" fill="#258753"/>
<rect x="122" y="130" width="1" height="1" fill="#258753"/>
<rect x="125" y="130" width="1" height="1" fill="#258753"/>
<rect x="128" y="130" width="1" height="1" fill="#258753"/>
<rect x="131" y="130" width="1" height="1" fill="#258753"/>
<rect x="134" y="130" width="1" height="1" fill="#258753"/>
<rect x="137" y="130" width="1" height="1" fill="#258753"/>
<rect x="140" y="130" width="1" height="1" fill="#258753"/>
<rect x="143" y="130" width="1" height="1" fill="#258753"/>
<rect x="146" y="130" width="1" height="1" fill="#258753"/>
<rect x="149" y="130" width="1" height="1" fill="#258753"/>
<rect x="152" y="130" width="1" height="1" fill="#258753"/>
<rect x="155" y="130" width="1" height="1" fill="#258753"/>
<rect x="158" y="130" width="1" height="1" fill="#258753"/>
<rect x="161" y="130" width="1" height="1" fill="#258753"/>
<rect x="164" y="130" width="1" height="1" fill="#258753"/>
<rect x="167" y="130" width="1" height="1" fill="#258753"/>
<rect x="170" y="130" width="1" height="1" fill="#258753"/>
<rect x="173" y="130" width="1" height="1" fill="#258753"/>
<rect x="176" y="130" width="1" height="1" fill="#258753"/>
<rect x="179" y="130" width="1" height="1" fill="#258753"/>
<rect x="182" y="130" width="1" height="1" fill="#258753"/>
<rect x="185" y="130" width="1" height="1" fill="#258753"/>
<rect x="188" y="130" width="1" height="1" fill="#258753"/>
<rect x="191" y="130" width="1" height="1" fill="#258753"/>
<rect x="194" y="130" width="1" height="1" fill="#258753"/>
<rect x="197" y="130" width="1" height="1" fill="#258753"/>
<rect x="200" y="130" width="1" height="1" fill="#258753"/>
<rect x="203" y="130" width="1" height="1" fill="#258753"/>
<rect x="206" y="130" width="1" height="1" fill="#258753"/>
<rect x="209" y="130" width="1" height="1" fill="#258753"/>
<rect x="212" y="130" width="1" height="1" fill="#258753"/>
<rect x="215" y="130" width="1" height="1" fill="#258753"/>
<rect x="218" y="130" width="1" height="1" fill="#258753"/>
<rect x="221" y="130" width="1" height="1" fill="#258753"/>
<rect x="224" y="130" width="1" height="1" fill="#258753"/>
<rect x="227" y="130" width="1" height="1" fill="#258753"/>
<rect x="230" y="130" width="1" height="1" fill="#258753"/>
<rect x="233" y="130" width="1" height="1" fill="#258753"/>
<rect x="236" y="130" width="1" height="1" fill="#258753"/>
<rect x="239" y="130" width="1" height="1" fill="#258753"/>
<rect x="242" y="130" width="1" height="1" fill="#258753"/>
<rect x="245" y="130" width="1" height="1" fill="#258753"/>
<rect x="248" y="130" width="1" height="1" fill="#258753"/>
<rect x="251" y="130" width="1" height="1" fill="#258753"/>
<rect x="254" y="130" width="1" height="1" fill="#258753"/>
<rect x="257" y="130" width="1" height="1" fill="#258753"/>
<rect x="260" y="130" width="1" height="1" fill="#258753"/>
<rect x="263" y="130" width="1" height="1" fill="#258753"/>
<rect x="266" y="130" width="1" height="1" fill="#258753"/>
<rect x="269" y="130" width="1" height="1" fill="#258753"/>
<rect x="272" y="130" width="1" height="1" fill="#258753"/>
<rect x="275" y="130" width="1" height="1" fill="#258753"/>
<rect x="278" y="130" width="1" height="1" fill="#258753"/>
<rect x="281" y="130" width="1" height="1" fill="#258753"/>
<rect x="284" y="130" width="1" height="1" fill="#258753"/>
<rect x="287" y="130" width="1" height="1" fill="#258753"/>
<rect x="290" y="130" width="1" height="1" fill="#258753"/>
<rect x="293" y="130" width="1" height="1" fill="#258753"/>
<rect x="296" y="130" width="1" height="1" fill="#258753"/>
<rect x="299" y="130" width="1" height="1" fill="#258753"/>
<rect x="302" y="130" width="1" height="1" fill="#258753"/>
<rect x="305" y="130" width="1" height="1" fill="#258753"/>
<rect x="308" y="130" width="1" height="1" fill="#258753"/>
<rect x="311" y="130" width="1" height="1" fill="#258753"/>
<rect x="314" y="130" width="1" height="1" fill="#258753"/>
<rect x="317" y="130" width="1" height="1" fill="#258753"/>
<rect x="320" y="130" width="1" height="1" fill="#258753"/>
<rect x="323" y="130" width="1" height="1" fill="#258753"/>
<rect x="326" y="130" width="1" height="1" fill="#258753"/>
<rect x="329" y="130" width="1" height="1" fill="#258753"/>
<rect x="332" y="130" width="1" height="1" fill="#258753"/>
<rect x="335" y="130" width="1" height="1" fill="#258753"/>
<rect x="338" y="130" width="1" height="1" fill="#258753"/>
<rect x="341" y="130" width="1" height="1" fill="#258753"/>
<rect x="344" y="130" width="1" height="1" fill="#258753"/>
<rect x="347" y="130" width="1" height="1" fill="#258753"/>
<rect x="350" y="130" width="1" height="1" fill="#258753"/>
<rect x="353" y="130" width="1" height="1" fill="#258753"/>
<rect x="356" y="130" width="1" height="1" fill="#258753"/>
<rect x="359" y="130" width="1" height="1" fill="#258753"/>
<rect x="362" y="130" width="1" height="1" fill="#258753"/>
<rect x="365" y="130" width="1" height="1" fill="#258753"/>
<rect x="368" y="130" width="1" height="1" fill="#258753"/>
<rect x="371" y="130" width="1" height="1" fill="#258753"/>
<rect x="374" y="130" width="1" height="1" fill="#258753"/>
<rect x="377" y="130" width="1" height="1" fill="#258753"/>
<rect x="380" y="130" width="1" height="1" fill="#258753"/>
<rect x="383" y="130" width="1" height="1" fill="#258753"/>
<rect x="386" y="130" width="1" height="1" fill="#258753"/>
<rect x="389" y="130" width="1" height="1" fill="#258753"/>
<rect x="392" y="130" width="1" height="1" fill="#258753"/>
<rect x="395" y="130" width="1" height="1" fill="#258753"/>
<rect x="398" y="130" width="1" height="1" fill="#258753"/>
<rect x="401" y="130" width="1" height="1" fill="#258753"/>
<rect x="404" y="130" width="1" height="1" fill="#258753"/>
<rect x="407" y="130" width="1" height="1" fill="#258753"/>
<rect x="410" y="130" width="1" height="1" fill="#258753"/>
<rect x="413" y="130" width="1" height="1" fill="#258753"/>
<rect x="416" y="130" width="1" height="1" fill="#258753"/>
<rect x="419" y="130" width="1" height="1" fill="#258753"/>
<rect x="422" y="130" width="1" height="1" fill="#258753"/>
<rect x="425" y="130" width="1" height="1" fill="#258753"/>
<rect x="428" y="130" width="1" height="1" fill="#258753"/>
<rect x="431" y="130" width="1" height="1" fill="#258753"/>
<rect x="434" y="130" width="1" height="1" fill="#258753"/>
<rect x="437" y="130" width="1" height="1" fill="#258753"/>
<rect x="440" y="130" width="1" height="1" fill="#258753"/>
<rect x="443" y="130" width="1" height="1" fill="#258753"/>
<rect x="446" y="130" width="1" height="1" fill="#258753"/>
<rect x="449" y="130" width="1" height="1" fill="#258753"/>
<rect x="452" y="130" width="1" height="1" fill="#258753"/>
<rect x="455" y="130" width="1" height="1" fill="#258753"/>
<rect x="458" y="130" width="1" height="1" fill="#258753"/>
<rect x="461" y="130" width="1" height="1" fill="#258753"/>
<rect x="464" y="130" width="1" height="1" fill="#258753"/>
<rect x="467" y="130" width="1" height="1" fill="#258753"/>
<rect x="470" y="130" width="1" height="1" fill="#258753"/>
<rect x="473" y="130" width="1" height="1" fill="#258753"/>
<rect x="476" y="130" width="1" height="1" fill="#258753"/>
<rect x="479" y="130" width="1" height="1" fill="#258753"/>
<rect x="482" y="130" width="1" height="1" fill="#258753"/>
<rect x="485" y="130" width="1" height="1" fill="#258753"/>
<rect x="488" y="130" width="1" height="1" fill="#258753"/>
<rect x="491" y="130" width="1" height="1" fill="#258753"/>
<rect x="494" y="130" width="1" height="1" fill="#258753"/>
<rect x="497" y="130" width="1" height="1" fill="#258753"/>
<rect x="500" y="130" width="1" height="1" fill="#258753"/>
<rect x="503" y="130" width="1" height="1" fill="#258753"/>
<rect x="506" y="130" width="1" height="1" fill="#258753"/>
<rect x="509" y="130" width="1" height="1" fill="#258753"/>
<rect x="512" y="130" width="1" height="1" fill="#258753"/>
<rect x="515" y="130" width="1" height="1" fill="#258753"/>
<rect x="518" y="130" width="1" height="1" fill="#258753"/>
<rect x="521" y="130" width="1" height="1" fill="#258753"/>
<rect x="524" y="130" width="1" height="1" fill="#258753"/>
<rect x="527" y="130" width="1" height="1" fill="#258753"/>
<rect x="530" y="130" width="1" height="1" fill="#258753"/>
<rect x="533" y="130" width="1" height="1" fill="#258753"/>
<rect x="536" y="130" width="1" height="1" fill="#258753"/>
<rect x="539" y="130" width="1" height="1" fill="#258753"/>
<rect x="542" y="130" width="1" height="1" fill="#258753"/>
<rect x="545" y="130" width="1" height="1" fill="#258753"/>
<rect x="548" y="130" width="1" height="1" fill="#258753"/>
<rect x="551" y="130" width="1" height="1" fill="#258753"/>
<rect x="554" y="130" width="1" height="1" fill="#258753"/>
<rect x="557" y="130" width="1" height="1" fill="#258753"/>
<rect x="560" y="130" width="1" height="1" fill="#258753"/>
<rect x="563" y="130" width="1" height="1" fill="#258753"/>
<rect x="566" y="130" width="1" height="1" fill="#258753"/>
<rect x="569" y="130" width="1" height="1" fill="#258753"/>
<rect x="572" y="130" width="1" height="1" fill="#258753"/>
<rect x="575" y="130" width="1" height="1" fill="#258753"/>
<rect x="578" y="130" width="1" height="1" fill="#258753"/>
<rect x="581" y="130" width="1" height="1" fill="#258753"/>
<rect x="584" y="130" width="1" height="1" fill="#258753"/>
<rect x="587" y="130" width="1" height="1" fill="#258753"/>
<rect x="590" y="130" width="1" height="1" fill="#258753"/>
<rect x="593" y="130" width="1" height="1" fill="#258753"/>
<rect x="596" y="130" width="1" height="1" fill="#258753"/>
<rect x="599" y="130" width="1" height="1" fill="#258753"/>
<rect x="602" y="130" width="1" height="1" fill="#258753"/>
<rect x="605" y="130" width="1" height="1" fill="#258753"/>
<rect x="608" y="130" width="1" height="1" fill="#258753"/>
<rect x="611" y="130" width="1" height="1" fill="#258753"/>
<rect x="614" y="130" width="1" height="1" fill="#258753"/>
<rect x="617" y="130" width="1" height="1" fill="#258753"/>
<rect x="620" y="130" width="1" height="1" fill="#258753"/>
<rect x="623" y="130" width="1" height="1" fill="#258753"/>
<rect x="626" y="130" width="1" height="1" fill="#258753"/>
<rect x="629" y="130" width="1" height="1" fill="#258753"/>
<rect x="632" y="130" width="1" height="1" fill="#258753"/>
<rect x="635" y="130" width="1" height="1" fill="#258753"/>
<rect x="638" y="130" width="1" height="1" fill="#258753"/>
<rect x="641" y="130" width="1" height="1" fill="#258753"/>
<rect x="644" y="130" width="1" height="1" fill="#258753"/>
<rect x="647" y="130" width="1" height="1" fill="#258753"/>
<rect x="650" y="130" width="1" height="1" fill="#258753"/>
<rect x="653" y="130" width="1" height="1" fill="#258753"/>
<rect x="656" y="130" width="1" height="1" fill="#258753"/>
<rect x="659" y="130" width="1" height="1" fill="#258753"/>
<rect x="662" y="130" width="1" height="1" fill="#258753"/>
<rect x="665" y="130" width="1" height="1" fill="#258753"/>
<rect x="668" y="130" width="1" height="1" fill="#258753"/>
<rect x="671" y="130" width="1" height="1" fill="#258753"/>
<rect x="674" y="130" width="1" height="1" fill="#258753"/>
<rect x="677" y="130" width="1" height="1" fill="#258753"/>
<rect x="680" y="130" width="1" height="1" fill="#258753"/>
<rect x="683" y="130" width="1" height="1" fill="#258753"/>
<rect x="686" y="130" width="1" height="1" fill="#258753"/>
<rect x="689" y="130" width="1" height="1" fill="#258753"/>
<rect x="692" y="130" width="1" height="1" fill="#258753"/>
<rect x="695" y="130" width="1" height="1" fill="#258753"/>
<rect x="698" y="130" width="1" height="1" fill="#258753"/>
<rect x="701" y="130" width="1" height="1" fill="#258753"/>
<rect x="704" y="130" width="1" height="1" fill="#258753"/>
<rect x="707" y="130" width="1" height="1" fill="#258753"/>
<rect x="710" y="130" width="1" height="1" fill="#258753"/>
<rect x="713" y="130" width="1" height="1" fill="#258753"/>
<rect x="716" y="130" width="1" height="1" fill="#258753"/>
<rect x="719" y="130" width="1" height="1" fill="#258753"/>
<rect x="722" y="130" width="1" height="1" fill="#258753"/>
<rect x="725" y="130" width="1" height="1" fill="#258753"/>
<rect x="728" y="130" width="1" height="1" fill="#258753"/>
<rect x="731" y="130" width="1" height="1" fill="#258753"/>
<rect x="734" y="130" width="1" height="1" fill="#258753"/>
<rect x="737" y="130" width="1" height="1" fill="#258753"/>
<rect x="740" y="130" width="1" height="1" fill="#258753"/>
<rect x="743" y="130" width="1" height="1" fill="#258753"/>
<rect x="746" y="130" width="1" height="1" fill="#258753"/>
<rect x="749" y="130" width="1" height="1" fill="#258753"/>
<rect x="752" y="130" width="1" height="1" fill="#258753"/>
<rect x="755" y="130" width="1" height="1" fill="#258753"/>
<rect x="758" y="130" width="1" height="1" fill="#258753"/>
<rect x="761" y="130" width="1" height="1" fill="#258753"/>
<rect x="764" y="130" width="1" height="1" fill="#258753"/>
<rect x="767" y="130" width="1" height="1" fill="#258753"/>
<rect x="770" y="130" width="1" height="1" fill="#258753"/>
<rect x="773" y="130" width="1" height="1" fill="#258753"/>
<rect x="776" y="130" width="1" height="1" fill="#258753"/>
<rect x="779" y="130" width="1" height="1" fill="#258753"/>
<rect x="782" y="130" width="1" height="1" fill="#258753"/>
<rect x="785" y="130" width="1" height="1" fill="#258753"/>
<rect x="788" y="130" width="1" height="1" fill="#258753"/>
<rect x="791" y="130" width="1" height="1" fill="#258753"/>
<rect x="794" y="130" width="1" height="1" fill="#258753"/>
<rect x="0" y="644" width="797" height="1" fill="#e0e3eb"/>
<rect x="798" y="644" width="59" height="1" fill="#e0e3eb"/>
</svg>
<div class="pl" style="top:14px">2528.00</div>
<div class="pl" style="top:55px">2524.00</div>
<div class="pl" style="top:95px">2520.00</div>
<div class="pl" style="top:135px">2516.00</div>
<div class="pl" style="top:176px">2512.00</div>
<div class="pl" style="top:216px">2508.00</div>
<div class="pl" style="top:257px">2504.00</div>
<div class="pl" style="top:297px">2500.00</div>
<div class="pl" style="top:337px">2496.00</div>
<div class="pl" style="top:378px">2492.00</div>
<div class="pl" style="top:418px">2488.00</div>
<div class="pl" style="top:458px">2484.00</div>
<div class="pl" style="top:499px">2480.00</div>
<div class="pl" style="top:539px">2476.00</div>
<div class="pl" style="top:579px">2472.00</div>
<div class="badge" style="top:122px;width:56px;height:17px;line-height:18.6px;background:#258753">2517.17</div>
<div class="badge" style="top:618px;width:50px;height:17px;line-height:18.6px;background:#22ab94;letter-spacing:-0.28px">2.636K</div>
<div class="tl" style="left:116.5px">3</div>
<div class="tl" style="left:218.5px">4</div>
<div class="tl" style="left:320.5px">5</div>
<div class="tl" style="left:422.5px">6</div>
<div class="tl" style="left:511.5px">8</div>
<div class="tl" style="left:626.5px">10</div>
<div class="tl" style="left:728.5px">11</div>
<div class="tl" style="left:9.5px;width:20px;font-weight:bold;text-align:right;left:12.6px">9</div>
<svg width="14" height="14" viewBox="0 0 14 14" style="left:32px;top:651px" shape-rendering="auto"><path d="M3.3 1.7 H11.3 V11.2 Q11.3 12.3 10.2 12.3 H8.6 M3.3 1.7 V7.5 Q3.3 10.8 1.3 12.4 M3.3 5 H11.3 M3.3 8.2 H11.3" fill="none" stroke="#363a45" stroke-width="1.5" stroke-linejoin="miter"/></svg>
<svg width="20" height="20" viewBox="0 0 20 20" style="left:818px;top:649px" shape-rendering="auto"><path d="M3 10 L6.5 3.7 H13.5 L17 10 L13.5 16.3 H6.5 Z" fill="none" stroke="#3a3c45" stroke-width="1.15" stroke-linejoin="round"/><circle cx="10" cy="10" r="2.2" fill="none" stroke="#3a3c45" stroke-width="1.15"/></svg>
</body></html>
